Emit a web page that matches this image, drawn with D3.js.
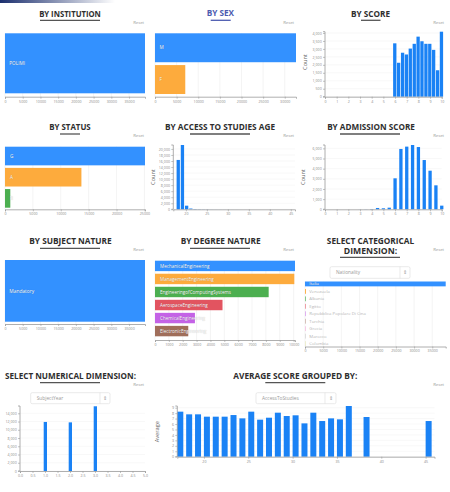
<!DOCTYPE html>
<html><head><meta charset="utf-8">
<script src="https://cdn.jsdelivr.net/npm/d3@7"></script>
<style>
html,body{margin:0;padding:0;background:#fff;}
svg{display:block;font-family:'Open Sans',Lato,sans-serif;}
</style></head><body>
<svg id="c" width="450" height="492"></svg>
<script>
// ---------------- DATA ----------------
const institutionCats = ["POLIMI"];
const institutionVals = [39500];
const institutionTicks = [0,5000,10000,15000,20000,25000,30000,35000];

const sexCats = ["M","F"];
const sexVals = [32600,7000];
const sexTicks = [0,5000,10000,15000,20000,25000,30000];

const scoreBins = [6.00,6.33,6.67,7.00,7.33,7.67,8.00,8.33,8.67,9.00,9.33,9.67,10.00];
const scoreCounts = [3350,2130,2760,2650,3020,3320,3770,3480,3320,3320,2940,1660,4080];
const scoreXTicks = [0,1,2,3,4,5,6,7,8,9,10];
const scoreYTicks = [0,500,1000,1500,2000,2500,3000,3500,4000];

const statusCats = ["G","A","R"];
const statusVals = [25100,13700,950];
const statusTicks = [0,5000,10000,15000,20000,25000];

const ageBins = [17,18,19,20,21,22,23,24,25,26,27,28,29,30,31,32,33,34,35,36,38,45];
const ageCounts = [20,16350,21300,1200,250,100,60,40,25,20,15,12,10,8,6,5,4,3,3,2,1,1];
const ageXTicks = [20,25,30,35,40,45];
const ageYTicks = [0,2000,4000,6000,8000,10000,12000,14000,16000,18000,20000];

const admBins = [3.0,3.5,4.0,4.5,5.0,5.5,6.0,6.5,7.0,7.5,8.0,8.5,9.0,9.5,10.0];
const admCounts = [5,10,30,130,100,160,3050,5940,6170,6330,6130,4850,3800,2360,360];
const admXTicks = [0,1,2,3,4,5,6,7,8,9,10];
const admYTicks = [0,1000,2000,3000,4000,5000,6000];

const subjectCats = ["Mandatory"];
const subjectVals = [39500];
const subjectTicks = [0,5000,10000,15000,20000,25000,30000,35000];

const degreeCats = ["MechanicalEngineering","ManagementEngineering","EngineeringofComputingSystems","AerospaceEngineering","ChemicalEngineering","ElectronicEngineering"];
const degreeVals = [10100,10050,8200,4870,2880,2400];
const degreeTicks = [0,1000,2000,3000,4000,5000,6000,7000,8000,9000,10000];

const nationCats = ["Italia","Venezuela","Albania","Egitto","Repubblica Popolare Di Cina","Turchia","Grecia","Marocco","Colombia"];
const nationVals = [38700,250,180,150,130,110,90,80,60];
const nationTicks = [0,5000,10000,15000,20000,25000,30000,35000];

const yearBins = [1,2,3];
const yearCounts = [11900,11800,15700];
const yearXTicks = [0,0.5,1,1.5,2,2.5,3,3.5,4,4.5,5];
const yearYTicks = [0,2000,4000,6000,8000,10000,12000,14000];

const avgBins = [17,18,19,20,21,22,23,24,25,26,27,28,29,30,31,32,33,34,35,36,38,45];
const avgVals = [8.27,7.78,7.78,7.35,7.35,7.35,7.65,7.04,8.27,6.8,7.16,8.08,7.47,7.6,6.12,8.08,6.55,7.04,6.86,9.31,7.29,6.55];
const avgXTicks = [20,25,30,35,40,45];
const avgYTicks = [0,1,2,3,4,5,6,7,8,9];

// ---------------- STYLE ----------------
const palette = ["#3391ff","#fdab3d","#4caf50","#e25460","#c462e6","#a06e5a","#f06bbf","#9e9e9e","#c0c43a"];
const histColor = "#1a82f5";
const axisColor = "#9a9a9a";
const tickTextColor = "#8a8a8a";

const svg = d3.select("#c");

// header strip
const defs = svg.append("defs");
const lg = defs.append("linearGradient").attr("id","hdr");
lg.append("stop").attr("offset","0%").attr("stop-color","#1b2f6e");
lg.append("stop").attr("offset","100%").attr("stop-color","#1b2f6e").attr("stop-opacity",0);
svg.append("rect").attr("x",0).attr("y",0).attr("width",115).attr("height",3).attr("fill","url(#hdr)");

function title(lines, cx, ys, widths, ul, uly, color){
  lines.forEach((t,i)=>{
    svg.append("text").attr("x",cx).attr("y",ys[i]).attr("text-anchor","middle")
      .attr("font-size",8.4).attr("font-weight",700).attr("fill",color||"#2e2e2e")
      .attr("textLength",widths[i]).attr("lengthAdjust","spacingAndGlyphs").text(t);
  });
  svg.append("line").attr("x1",ul[0]).attr("x2",ul[1]).attr("y1",uly).attr("y2",uly)
    .attr("stroke",color||"#555").attr("stroke-width",1.3);
}
function reset(x,y){
  svg.append("text").attr("x",x).attr("y",y).attr("text-anchor","end")
    .attr("font-size",4.2).attr("fill","#9a9a9a").text("Reset");
}
function styleAxis(g){
  g.selectAll(".domain").attr("stroke",axisColor).attr("stroke-width",0.8);
  g.selectAll(".tick line").attr("stroke",axisColor).attr("stroke-width",0.6);
  g.selectAll(".tick text").attr("fill",tickTextColor).attr("font-size",3.6)
    .attr("font-family","'Open Sans',Lato,sans-serif");
}
function selectBox(x0,x1,y0,y1,sep,label){
  svg.append("rect").attr("x",x0).attr("y",y0).attr("width",x1-x0).attr("height",y1-y0)
    .attr("rx",1.5).attr("fill","#fff").attr("stroke","#dcdcdc").attr("stroke-width",0.6);
  svg.append("line").attr("x1",sep).attr("x2",sep).attr("y1",y0).attr("y2",y1)
    .attr("stroke","#dcdcdc").attr("stroke-width",0.6);
  svg.append("text").attr("x",x0+6).attr("y",(y0+y1)/2+1.7).attr("font-size",4.8)
    .attr("fill","#9a9a9a").text(label);
  svg.append("text").attr("x",(sep+x1)/2).attr("y",(y0+y1)/2+1.6).attr("text-anchor","middle")
    .attr("font-size",4.5).attr("fill","#999").text("⇕");
}

function hbar(o){
  const x = d3.scaleLinear().domain([0,d3.max(o.vals)]).range([o.x0,o.x1]);
  const y = d3.scaleBand().domain(o.cats).range([o.top,o.bot]).paddingInner(o.pad).paddingOuter(0);
  // grid
  svg.append("g").selectAll("line").data(o.ticks).join("line")
    .attr("x1",d=>x(d)).attr("x2",d=>x(d)).attr("y1",o.top).attr("y2",o.axisY)
    .attr("stroke","#ececec").attr("stroke-width",0.6);
  svg.append("g").selectAll("rect").data(o.cats).join("rect")
    .attr("x",o.x0).attr("y",d=>y(d)).attr("height",y.bandwidth())
    .attr("width",(d,i)=>x(o.vals[i])-o.x0)
    .attr("fill",(d,i)=>o.colors[i%o.colors.length]);
  svg.append("g").selectAll("text").data(o.cats).join("text")
    .attr("x",o.x0+o.lx).attr("y",d=>y(d)+y.bandwidth()/2+o.fs*0.36)
    .attr("font-size",o.fs).attr("fill",(d,i)=> (o.grayAfter!==undefined && i>=o.grayAfter) ? "#b5b5b5" : "#fff")
    .style("text-shadow",(d,i)=> (o.grayAfter!==undefined && i>=o.grayAfter) ? "none" : "0 0 0.8px rgba(0,0,0,0.35)")
    .text(d=>d);
  const ax = svg.append("g").attr("transform",`translate(0,${o.axisY})`)
    .call(d3.axisBottom(x).tickValues(o.ticks).tickSize(2).tickPadding(1.3).tickFormat(d3.format("d")));
  styleAxis(ax);
}

function hist(o){
  const x = d3.scaleLinear().domain(o.xd).range([o.x0,o.x1]);
  const y = d3.scaleLinear().domain([0,o.ymax]).range([o.y0,o.y1]);
  svg.append("g").selectAll("line").data(o.yTicks).join("line")
    .attr("x1",o.x0).attr("x2",o.x1).attr("y1",d=>y(d)).attr("y2",d=>y(d))
    .attr("stroke","#f1f1f1").attr("stroke-width",0.5);
  svg.append("g").selectAll("rect").data(o.bins).join("rect")
    .attr("x",d=>x(d)+o.off).attr("width",o.bw)
    .attr("y",(d,i)=>y(o.vals[i])).attr("height",(d,i)=>o.y0-y(o.vals[i]))
    .attr("fill",histColor);
  const ax = svg.append("g").attr("transform",`translate(0,${o.y0})`)
    .call(d3.axisBottom(x).tickValues(o.xTicks).tickSize(2).tickPadding(1.3).tickFormat(o.xFmt));
  styleAxis(ax);
  const ay = svg.append("g").attr("transform",`translate(${o.x0},0)`)
    .call(d3.axisLeft(y).tickValues(o.yTicks).tickSize(2).tickPadding(1.3).tickFormat(o.yFmt));
  styleAxis(ay);
  ay.select(".domain").attr("d",`M-2,${o.y1}H0V${o.y0}H-2`);
  if(o.ylab){
    svg.append("text").attr("transform",`translate(${o.ylx},${o.yly}) rotate(-90)`)
      .attr("text-anchor","middle").attr("font-size",5.6).attr("fill","#666").text(o.ylab);
  }
}

// ---------------- ROW 1 ----------------
title(["BY INSTITUTION"],70,[16.6],[61.7],[40,100],20.3);
reset(144,23.6);
hbar({cats:institutionCats,vals:institutionVals,x0:5,x1:145,top:33.3,bot:93.3,pad:0,axisY:96.7,
      ticks:institutionTicks,colors:palette,lx:4.3,fs:4.7});

title(["BY SEX"],220.3,[16.4],[27.3],[210.7,230.7],20.3,"#4c5bb0");
reset(294,23.6);
hbar({cats:sexCats,vals:sexVals,x0:155,x1:296,top:33.3,bot:94,pad:0.09,axisY:96.7,
      ticks:sexTicks,colors:palette,lx:4.5,fs:4.7});

title(["BY SCORE"],370.5,[16.6],[39],[361,380.5],20.3);
reset(444,23.6);
hist({xd:[0,10],x0:325,x1:441.7,ymax:4080,y0:96.7,y1:31.7,bins:scoreBins,vals:scoreCounts,
      bw:3.3,off:-1.9,xTicks:scoreXTicks,yTicks:scoreYTicks,xFmt:d3.format("d"),yFmt:d3.format(","),
      ylab:"Count",ylx:307,yly:62});

// ---------------- ROW 2 ----------------
title(["BY STATUS"],70,[130.2],[41.4],[60,80],134);
reset(144,136.6);
hbar({cats:statusCats,vals:statusVals,x0:5,x1:145,top:146.7,bot:207.7,pad:0.12,axisY:209.3,
      ticks:statusTicks,colors:palette,lx:5,fs:4.7});

title(["BY ACCESS TO STUDIES AGE"],220,[130.2],[110],[190,250],134);
reset(294,136.6);
hist({xd:[17,46],x0:173.3,x1:295,ymax:21300,y0:209.3,y1:145,bins:ageBins,vals:ageCounts,
      bw:3.3,off:-0.9,xTicks:ageXTicks,yTicks:ageYTicks,xFmt:d3.format("d"),yFmt:d3.format(","),
      ylab:"Count",ylx:155,yly:177});

title(["BY ADMISSION SCORE"],371,[130.2],[87.7],[340,400],134);
reset(444,136.6);
hist({xd:[0,10],x0:325,x1:441.7,ymax:6330,y0:209.3,y1:145,bins:admBins,vals:admCounts,
      bw:3.3,off:-1.6,xTicks:admXTicks,yTicks:admYTicks,xFmt:d3.format("d"),yFmt:d3.format(","),
      ylab:"Count",ylx:305,yly:177});

// ---------------- ROW 3 ----------------
title(["BY SUBJECT NATURE"],70.5,[244.4],[82.4],[40,100],248.3);
reset(144,250.6);
hbar({cats:subjectCats,vals:subjectVals,x0:5,x1:145,top:260,bot:321.7,pad:0,axisY:324,
      ticks:subjectTicks,colors:palette,lx:4.3,fs:4.9});

title(["BY DEGREE NATURE"],220.7,[244.4],[80],[190,250],248.3);
reset(294,250.6);
hbar({cats:degreeCats,vals:degreeVals,x0:155,x1:295,top:260.7,bot:336.3,pad:0.2,axisY:340,
      ticks:degreeTicks,colors:palette,lx:5,fs:4.6});

title(["SELECT CATEGORICAL","DIMENSION:"],370.5,[244,253.7],[87.3,53.3],[340,400],257.3);
reset(444,251.2);
selectBox(330,410,266.7,278.3,400,"Nationality");
hbar({cats:nationCats,vals:nationVals,x0:305,x1:445.7,top:281.5,bot:346,pad:0.35,axisY:346.5,
      ticks:nationTicks,colors:palette,lx:4.3,fs:4.3,grayAfter:1});

// ---------------- ROW 4 ----------------
title(["SELECT NUMERICAL DIMENSION:"],70.5,[379],[131],[40,100],382.7);
reset(144,385.6);
selectBox(30.7,110,392.7,403.7,100,"SubjectYear");
hist({xd:[0,5],x0:20,x1:145,ymax:15770,y0:471,y1:406,bins:yearBins,vals:yearCounts,
      bw:3.3,off:-1.3,xTicks:yearXTicks,yTicks:yearYTicks,xFmt:d3.format(".1f"),yFmt:d3.format(",")});

title(["AVERAGE SCORE GROUPED BY:"],295.3,[379],[124],[265.3,325.3],382.7);
reset(444,385.6);
selectBox(256,336,392.7,403.7,325,"AccessToStudies");
hist({xd:[17,46],x0:177.3,x1:434.5,ymax:9.31,y0:456.7,y1:406,bins:avgBins,vals:avgVals,
      bw:6,off:0,xTicks:avgXTicks,yTicks:avgYTicks,xFmt:d3.format("d"),yFmt:d3.format("d"),
      ylab:"Average",ylx:158.5,yly:431.7});
</script></body></html>
